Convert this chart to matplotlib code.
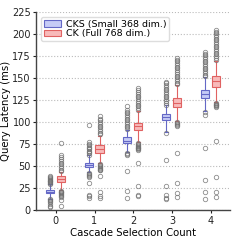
import matplotlib
matplotlib.use("Agg")
import matplotlib.pyplot as plt
from matplotlib.patches import Patch

counts = [0, 1, 2, 3, 4]
series = ["CKS (Small 368 dim.)", "CK (Full 768 dim.)"]

# CKS box stats per cascade count
cks_whislo = [13, 43, 66, 89, 113]
cks_q1 = [19, 49, 76.5, 102.5, 127]
cks_med = [21, 51.5, 79, 105.5, 132]
cks_q3 = [22.5, 54, 82.5, 109, 137]
cks_whishi = [29, 62, 91, 119, 151]
cks_fliers = [
    [29.5, 30.5, 31.5, 32.5, 33.5, 34.5, 35.5, 36.5, 37.5, 38.5,
     12, 11, 10, 9, 7, 5, 3],
    [63, 64.5, 66, 67.5, 69, 70.5, 72, 73.5, 75, 77, 97,
     42, 41, 40, 39, 38, 31, 17, 16, 14],
    [92, 94, 96, 98, 100, 102, 104, 106, 108, 110, 112, 114, 118,
     65, 64, 63, 44, 22, 14],
    [120, 122, 124, 126, 128, 130, 132, 134, 136, 138, 140, 142, 144, 146,
     88, 57, 27, 17, 14, 12],
    [152, 154, 156, 158, 160, 162, 164, 166, 168, 170, 172, 174, 176, 178, 180,
     111, 108, 71, 34, 20, 13],
]

# CK box stats per cascade count
ck_whislo = [23, 53, 77, 101, 123]
ck_q1 = [31.5, 64.5, 90.5, 117, 140.5]
ck_med = [35, 69, 95, 122, 146.5]
ck_q3 = [38.5, 74, 99.5, 127, 152.5]
ck_whishi = [43, 84, 113, 142, 170]
ck_fliers = [
    [44, 46, 48, 50, 52, 54, 56, 58, 60, 62, 76,
     22, 21, 20, 19, 18, 17, 16, 15, 11, 4.5],
    [86, 88, 90, 92, 94, 96, 98, 100, 102, 104, 107,
     52, 51, 50, 49, 48, 47, 46, 45, 39, 21, 16, 14],
    [114, 116, 118, 120, 122, 124, 126, 128, 130, 132, 134, 136, 139,
     76, 75, 74, 73, 72, 71, 70, 69, 68, 53, 27, 17, 16],
    [143, 145, 147, 149, 151, 153, 155, 157, 159, 161, 163, 165, 167, 169, 171, 173,
     100, 99, 98, 97, 96, 65, 31, 19, 15],
    [171, 173, 175, 177, 179, 181, 183, 185, 187, 189, 191, 193, 195, 197, 199, 201, 203, 205,
     122, 121, 120, 119, 118, 117, 78, 37, 21, 15],
]


def stats(lo, q1, med, q3, hi, fl):
    return [dict(whislo=a, q1=b, med=c, q3=d, whishi=e, fliers=f)
            for a, b, c, d, e, f in zip(lo, q1, med, q3, hi, fl)]


fig = plt.figure(figsize=(2.4, 2.45), dpi=100)
ax = fig.add_axes([0.152, 0.143, 0.806, 0.807])

blue_fill, blue_edge = "#c6cbf6", "#6468c6"
red_fill, red_edge = "#f8baba", "#e06262"
groups = [
    (stats(cks_whislo, cks_q1, cks_med, cks_q3, cks_whishi, cks_fliers), -0.15, blue_fill, blue_edge),
    (stats(ck_whislo, ck_q1, ck_med, ck_q3, ck_whishi, ck_fliers), 0.13, red_fill, red_edge),
]
for st, off, fill, edge in groups:
    ax.bxp(st, positions=[c + off for c in counts], widths=0.21, patch_artist=True,
           boxprops=dict(facecolor=fill, edgecolor=edge, linewidth=0.8),
           medianprops=dict(color=edge, linewidth=0.8),
           whiskerprops=dict(color=edge, linewidth=0.8),
           capprops=dict(color=edge, linewidth=0.8),
           capwidths=0.08,
           flierprops=dict(marker="o", markersize=3.2, markerfacecolor="none",
                           markeredgecolor="#707070", markeredgewidth=0.6, alpha=0.8),
           manage_ticks=False)

ax.set_xlim(-0.5, 4.5)
ax.set_ylim(0, 225)
ax.set_xticks(counts)
ax.set_xticklabels([str(c) for c in counts])
ax.set_yticks(range(0, 226, 25))
ax.tick_params(labelsize=7, length=2.5, width=0.8, pad=1.5, colors="#222222")
ax.grid(axis="y", linestyle=":", color="#bbbbbb", linewidth=0.8)
ax.set_axisbelow(True)
for s in ["top", "right"]:
    ax.spines[s].set_visible(False)
for s in ["left", "bottom"]:
    ax.spines[s].set_color("#444444")
    ax.spines[s].set_linewidth(1.0)

ax.set_xlabel("Cascade Selection Count", fontsize=7.3, labelpad=2)
ax.set_ylabel("Query Latency (ms)", fontsize=7.3, labelpad=1)

handles = [Patch(facecolor=blue_fill, edgecolor=blue_edge, linewidth=0.8),
           Patch(facecolor=red_fill, edgecolor=red_edge, linewidth=0.8)]
ax.legend(handles, series, loc="upper left", fontsize=6.8, frameon=True,
          handlelength=1.8, handleheight=0.7, borderpad=0.3, labelspacing=0.05,
          handletextpad=0.5, bbox_to_anchor=(0.0, 1.0), framealpha=1, edgecolor="#dddddd")

fig.savefig("out.png", dpi=100)
